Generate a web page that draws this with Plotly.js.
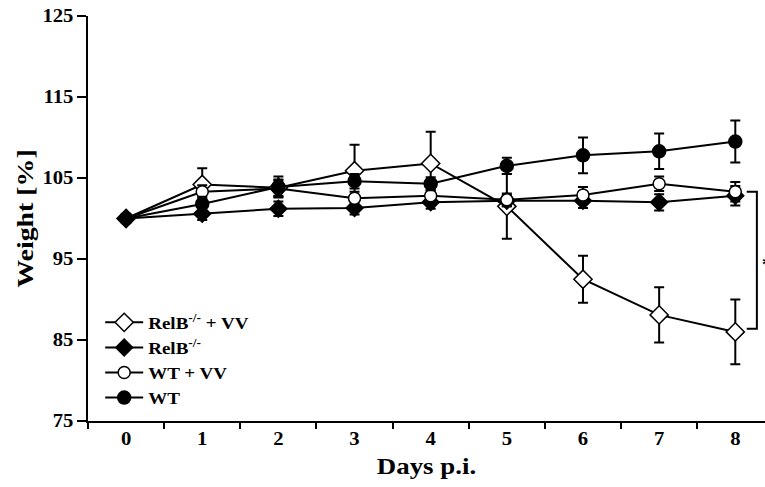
<!DOCTYPE html>
<html>
<head>
<meta charset="utf-8">
<script src="https://cdn.plot.ly/plotly-3.0.1.min.js"></script>
<style>html,body{margin:0;padding:0;background:#fff;}#chart{width:765px;height:487px;}</style>
</head>
<body>
<div id="chart"></div>
<script>
const days = ["0","1","2","3","4","5","6","7","8"];
const seriesNames = ["RelB<sup>-/-</sup> + VV", "RelB<sup>-/-</sup>", "WT + VV", "WT"];
const relbVV    = [100, 104.2, 103.8, 105.9, 106.8, 101.5, 92.5, 88.1, 86.0];
const relbVVErr = [0, 2.0, 1.0, 3.2, 3.9, 4.0, 2.9, 3.4, 4.0];
const relb      = [100, 100.6, 101.2, 101.3, 102.0, 102.2, 102.2, 102.0, 102.8];
const relbErr   = [0, 0.8, 0.9, 0.8, 0.8, 0.7, 0.9, 1.0, 1.2];
const wtVV      = [100, 103.3, 103.7, 102.5, 102.8, 102.3, 102.9, 104.3, 103.3];
const wtVVErr   = [0, 0.8, 1.0, 0.8, 0.7, 0.8, 1.0, 0.9, 1.2];
const wt        = [100, 101.8, 103.9, 104.6, 104.3, 106.5, 107.8, 108.3, 109.5];
const wtErr     = [0, 0.9, 1.3, 0.9, 0.8, 1.0, 2.2, 2.2, 2.6];
const yTicks = [75, 85, 95, 105, 115, 125];

const FONT = "'Liberation Serif', 'Times New Roman', serif";

function tr(name, y, err, symbol, size, fill) {
  return {
    x: days, y: y, name: name, type: 'scatter', mode: 'lines+markers',
    line: {color: '#000', width: 2},
    marker: {symbol: symbol, size: size, color: fill, line: {color: '#000', width: 1.5}},
    error_y: {type: 'data', array: err, visible: true, color: '#000', thickness: 2, width: 5},
    cliponaxis: false
  };
}

const data = [
  tr(seriesNames[0], relbVV, relbVVErr, 'diamond', 14, '#fff'),
  tr(seriesNames[1], relb, relbErr, 'diamond', 13, '#000'),
  tr(seriesNames[2], wtVV, wtVVErr, 'circle', 12, '#fff'),
  tr(seriesNames[3], wt, wtErr, 'circle', 13, '#000')
];

const layout = {
  width: 765, height: 487,
  margin: {l: 88, r: 0, t: 16, b: 66},
  paper_bgcolor: '#fff', plot_bgcolor: '#fff',
  font: {family: FONT, color: '#000', size: 18, weight: 'bold'},
  showlegend: true,
  legend: {
    x: 0.018, y: 0.287, xanchor: 'left', yanchor: 'top',
    bgcolor: 'rgba(0,0,0,0)', borderwidth: 0,
    font: {family: FONT, size: 17, color: '#000', weight: 'bold'},
    itemwidth: 38, tracegroupgap: 0
  },
  xaxis: {
    type: 'category', range: [-0.5, 8.39],
    tickson: 'boundaries', ticks: 'outside', ticklen: 6, tickwidth: 2, tickcolor: '#000',
    showline: true, linecolor: '#000', linewidth: 2,
    showgrid: false, zeroline: false,
    tickfont: {family: FONT, size: 18, color: '#000', weight: 'bold'},
    title: {text: 'Days p.i.', font: {family: FONT, size: 24, color: '#000', weight: 'bold'}, standoff: 10}
  },
  yaxis: {
    range: [75, 125], tickmode: 'array', tickvals: yTicks, ticktext: yTicks.map(String),
    ticks: 'outside', ticklen: 9, tickwidth: 2, tickcolor: '#000',
    showline: true, linecolor: '#000', linewidth: 2,
    showgrid: false, zeroline: false,
    tickfont: {family: FONT, size: 18, color: '#000', weight: 'bold'},
    title: {text: 'Weight [%]', font: {family: FONT, size: 24, color: '#000', weight: 'bold'}, standoff: 6}
  },
  shapes: [
    {type: 'path', xref: 'paper', yref: 'y',
     path: 'M 0.973,' + (wtVV[8]) + ' L 0.988,' + (wtVV[8]) + ' L 0.988,' + (relbVV[8] + 0.4) + ' L 0.973,' + (relbVV[8] + 0.4),
     line: {color: '#000', width: 2}}
  ],
  annotations: [
    {xref: 'paper', yref: 'y', x: 0.992, y: 94.3, xanchor: 'left', yanchor: 'middle',
     text: '*', showarrow: false, font: {family: FONT, size: 18, color: '#000', weight: 'bold'}}
  ]
};

// Widen glyphs horizontally (along the text direction) around each text's anchor point
function stretch(sel, f) {
  document.querySelectorAll(sel).forEach(function (el) {
    const x = parseFloat(el.getAttribute('x')) || 0;
    const y = parseFloat(el.getAttribute('y')) || 0;
    const t = el.getAttribute('transform') || '';
    el.setAttribute('transform', (t + ' translate(' + x + ',' + y + ') scale(' + f + ',1) translate(' + (-x) + ',' + (-y) + ')').trim());
  });
}

Plotly.newPlot('chart', data, layout, {displayModeBar: false, staticPlot: true}).then(function () {
  stretch('.ytick text', 1.15);
  stretch('.xtick text', 1.15);
  stretch('.g-xtitle text', 1.12);
  stretch('.g-ytitle text', 1.16);
  stretch('.legendtext', 1.12);
  document.querySelectorAll('.legend [clip-path]').forEach(function (el) {
    el.removeAttribute('clip-path');
  });
});
</script>
</body>
</html>
